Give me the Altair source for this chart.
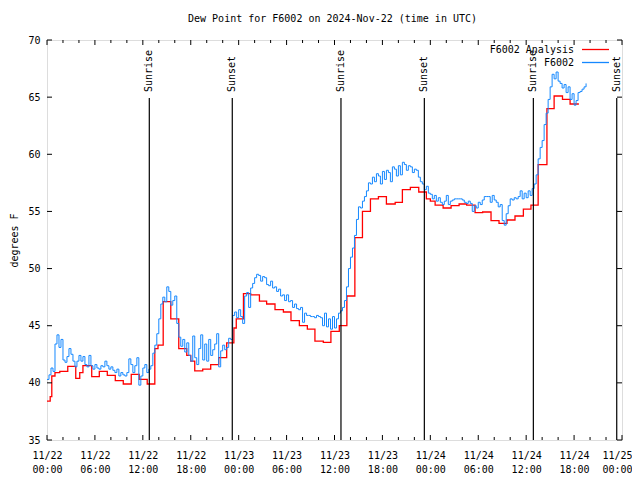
import altair as alt
import pandas as pd

TITLE = "Dew Point for F6002 on 2024-Nov-22 (time in UTC)"
series_names = ["F6002 Analysis", "F6002"]
series_colors = ["#ff0000", "#1588ff"]

# Analysis (hourly, stepped): change times in hours since 11/22 00:00 UTC, and values
red_hours = [0.0, 0.4, 0.6, 1.0, 1.6, 2.6, 3.6, 4.1, 4.5, 5.6,
             6.55, 7.55, 8.55, 9.55, 10.55, 11.55, 12.55, 13.5, 13.9, 14.55,
             15.5, 16.5, 17.5, 18.0, 18.5, 19.5, 20.5, 21.5, 22.5, 23.4,
             23.7, 24.6, 25.5, 26.6, 27.5, 28.55, 29.6, 30.55, 31.6, 32.6,
             33.55, 34.6, 35.55, 36.6, 37.55, 38.55, 39.5, 40.5, 41.5, 42.5,
             43.6, 44.5, 45.5, 46.55, 47.5, 48.0, 48.6, 49.6, 50.6, 51.6,
             52.55, 53.6, 54.55, 55.6, 56.6, 57.6, 58.6, 59.65, 60.6, 61.5,
             62.6, 63.5, 64.55, 65.5, 66.6]
red_values = [38.4, 38.8, 40.6, 40.9, 41.0, 41.45, 40.4, 40.9, 41.5, 40.55,
              41.0, 40.65, 40.2, 39.9, 40.75, 40.3, 39.9, 43.0, 43.3, 47.1,
              45.6, 43.0, 42.4, 41.9, 41.05, 41.2, 41.6, 42.2, 43.5, 44.8,
              45.6, 47.8, 47.7, 47.15, 46.9, 46.4, 46.2, 45.45, 45.0, 44.7,
              43.65, 43.55, 44.5, 45.0, 47.6, 52.7, 55.0, 56.1, 56.3, 55.65,
              55.8, 56.9, 57.1, 56.7, 56.1, 55.9, 55.55, 55.3, 55.5, 55.65,
              55.55, 54.9, 54.95, 54.2, 53.95, 54.25, 54.6, 55.2, 55.55, 59.1,
              64.0, 65.1, 64.8, 64.4, 64.4]

# Observations, every 15 minutes from 11/22 00:00 UTC
blue_step_hours = 0.25
blue_values = [
    40.3, 40.7, 41.3, 41.0,  43.4, 44.2, 43.1, 43.8,  42.0, 41.8, 42.3, 43.0,
    42.5, 41.9, 41.4, 41.9,  42.4, 41.9, 42.3, 41.6,  41.4, 42.4, 41.5, 41.2,
    41.6, 41.3, 41.2, 41.5,  41.4, 41.9, 41.5, 41.2,  41.4, 41.1, 40.9, 41.2,
    40.6, 40.9, 40.7, 40.6,  40.9, 42.1, 41.6, 40.9,  41.5, 42.2, 39.8, 40.6,
    41.3, 41.6, 40.9, 41.2,  41.5, 42.6, 43.3, 44.3,  45.6, 46.9, 47.5, 47.1,
    48.4, 48.0, 46.8, 47.2,  47.6, 45.2, 44.0, 43.2,  43.8, 42.7, 43.5, 42.4,
    41.9, 44.1, 42.2, 41.6,  43.0, 44.2, 42.0, 43.4,  41.9, 43.8, 42.4, 42.9,
    43.4, 44.3, 41.4, 42.8,  43.3, 42.9, 43.1, 43.9,  43.8, 45.9, 46.2, 45.7,
    46.4, 45.8, 45.2, 47.6,  47.9, 46.6, 48.3, 48.7,  49.2, 49.5, 49.4, 48.9,
    49.3, 49.2, 48.6, 48.5,  48.9, 48.3, 48.4, 48.0,  48.2, 47.6, 47.7, 47.2,
    47.7, 47.1, 47.2, 46.6,  46.9, 46.5, 46.4, 46.6,  45.3, 46.1, 45.9, 45.9,
    45.8, 45.8, 45.7, 45.9,  45.8, 45.7, 45.0, 46.1,  44.9, 45.6, 44.7, 45.8,
    44.8, 45.6, 46.1, 46.3,  46.6, 47.2, 48.4, 50.0,  51.0, 51.8, 52.9, 54.3,
    55.4, 55.3, 55.9, 56.3,  56.8, 57.5, 57.4, 58.0,  57.6, 58.3, 58.1, 57.4,
    58.5, 57.8, 58.6, 58.4,  57.6, 58.9, 58.7, 58.1,  59.0, 58.2, 59.3, 59.1,
    58.6, 59.0, 58.9, 58.4,  58.7, 58.6, 58.0, 57.6,  57.4, 56.9, 57.2, 56.6,
    56.5, 56.1, 56.4, 55.9,  56.2, 55.8, 55.6, 55.9,  56.4, 55.6, 55.9, 56.0,
    56.1, 56.1, 56.1, 56.1,  56.0, 55.8, 55.7, 55.9,  55.7, 55.0, 55.5, 55.3,
    55.8, 55.6, 56.0, 56.3,  56.3, 56.3, 55.8, 56.4,  56.0, 55.8, 55.4, 55.6,
    54.2, 53.8, 54.8, 55.5,  56.1, 56.0, 56.2, 56.1,  56.3, 56.8, 56.1, 56.6,
    56.2, 56.8, 56.4, 57.0,  57.4, 58.2, 59.6, 60.6,  61.2, 62.6, 63.6, 64.8,
    65.9, 67.0, 66.6, 67.2,  66.4, 66.2, 65.8, 66.1,  65.4, 65.9, 64.8, 65.3,
    64.3, 64.7, 65.4, 65.5,  65.7, 65.9, 66.2,
]

sun_hours = [12.81, 23.2, 36.81, 47.25, 60.9, 71.34]
sun_labels = ["Sunrise", "Sunset", "Sunrise", "Sunset", "Sunrise", "Sunset"]

y_ticks = [35, 40, 45, 50, 55, 60, 65, 70]
x_major = list(range(0, 73, 6))
x_minor = [h for h in range(0, 73, 2) if h % 6]

FONT = "DejaVu Sans Mono"
FS = 10
W, H = 575, 400

red_df = pd.DataFrame({"hour": red_hours, "value": red_values, "series": series_names[0]})
blue_df = pd.DataFrame({"hour": [i * blue_step_hours for i in range(len(blue_values))],
                        "value": blue_values, "series": series_names[1]})
sun_df = pd.DataFrame({"hour": sun_hours, "label": sun_labels})
ytick_df = pd.DataFrame({"value": y_ticks})
xmaj_df = pd.DataFrame({"hour": x_major})
xmin_df = pd.DataFrame({"hour": x_minor})
title_df = pd.DataFrame({"title": [TITLE]})

x_axis = alt.Axis(
    values=x_major,
    labelExpr="['11/' + (22 + floor(datum.value / 24)), (datum.value % 24 < 10 ? '0' : '') + (datum.value % 24) + ':00']",
    title=None, ticks=False, domain=False, grid=False,
    labelFont=FONT, labelFontSize=FS, labelColor="black", labelPadding=10,
    labelLineHeight=14, labelFlush=False, labelOverlap=False, labelBound=False,
    labelOffset={"condition": {"test": "datum.value == 72", "value": -5}, "value": 0},
)
y_axis = alt.Axis(
    values=y_ticks, title="degrees F", ticks=False, domain=False, grid=False,
    labelFont=FONT, labelFontSize=FS, labelColor="black", labelPadding=7,
    titleFont=FONT, titleFontSize=FS, titleFontWeight="normal", titleColor="black",
    titleX=-33, titleY=H / 2, titleAngle=270, titleAlign="center", titleBaseline="middle",
)
x_scale = alt.Scale(domain=[0, 72], nice=False, zero=False)
y_scale = alt.Scale(domain=[35, 70], nice=False, zero=False)


def X():
    return alt.X("hour:Q", scale=x_scale, axis=x_axis)


def Y():
    return alt.Y("value:Q", scale=y_scale, axis=y_axis)


color_enc = alt.Color("series:N", scale=alt.Scale(domain=series_names, range=series_colors), legend=None)

red_line = alt.Chart(red_df).mark_line(interpolate="step-after", strokeWidth=1.3, clip=True).encode(
    x=X(), y=Y(), color=color_enc)
blue_line = alt.Chart(blue_df).mark_line(interpolate="step-after", strokeWidth=1.0, clip=True).encode(
    x=X(), y=Y(), color=color_enc)

sun_rules = alt.Chart(sun_df).mark_rule(color="black", strokeWidth=1.2).encode(
    x=X(), y=alt.value(58), y2=alt.value(H))
sun_text = alt.Chart(sun_df).mark_text(angle=270, align="left", baseline="middle",
                                       font=FONT, fontSize=FS, color="black").encode(
    x=X(), y=alt.value(52), text="label:N")

ticks = [
    alt.Chart(ytick_df).mark_rule(color="black").encode(y=Y(), x=alt.value(0), x2=alt.value(5)),
    alt.Chart(ytick_df).mark_rule(color="black").encode(y=Y(), x=alt.value(W - 5), x2=alt.value(W)),
    alt.Chart(xmaj_df).mark_rule(color="black").encode(x=X(), y=alt.value(H - 5), y2=alt.value(H)),
    alt.Chart(xmaj_df).mark_rule(color="black").encode(x=X(), y=alt.value(0), y2=alt.value(5)),
    alt.Chart(xmin_df).mark_rule(color="black").encode(x=X(), y=alt.value(H - 3), y2=alt.value(H)),
    alt.Chart(xmin_df).mark_rule(color="black").encode(x=X(), y=alt.value(0), y2=alt.value(3)),
]

legend_layers = []
for i, (name, col) in enumerate(zip(series_names, series_colors)):
    ldf = pd.DataFrame({"series": [name]})
    ly = 9.5 + 13 * i
    legend_layers.append(alt.Chart(ldf).mark_text(align="right", baseline="middle", font=FONT,
                                                  fontSize=FS, color="black").encode(
        x=alt.value(527), y=alt.value(ly), text="series:N"))
    legend_layers.append(alt.Chart(ldf).mark_rule(color=col, strokeWidth=1.3).encode(
        x=alt.value(535), x2=alt.value(562), y=alt.value(ly)))

title_text = alt.Chart(title_df).mark_text(align="center", baseline="middle", font=FONT,
                                           fontSize=FS, color="black").encode(
    x=alt.value(W / 2 - 2), y=alt.value(-21), text="title:N")

chart = alt.layer(
    red_line, blue_line, sun_rules, sun_text, *ticks, *legend_layers, title_text
).properties(
    width=W, height=H,
    autosize=alt.AutoSizeParams(type="none"),
    padding={"left": 39, "top": 32, "right": 10, "bottom": 38},
).configure_view(stroke="black", strokeWidth=1).configure(background="white")

chart.save("out.html", embed_options={"renderer": "svg", "actions": False})
